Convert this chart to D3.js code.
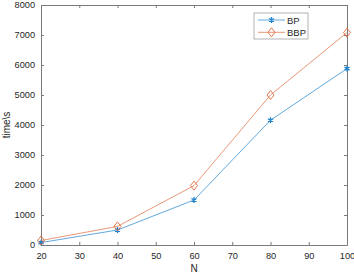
<!DOCTYPE html>
<html>
<head>
<meta charset="utf-8">
<script src="https://cdn.jsdelivr.net/npm/d3@7"></script>
<style>
  body { margin: 0; background: #fff; }
  text { font-family: "Liberation Sans", Arial, sans-serif; }
</style>
</head>
<body>
<div id="chart"></div>
<script>
// data
var nValues = [20, 40, 60, 80, 100];
var bpTimes = [80, 500, 1500, 4160, 5880];
var bbpTimes = [150, 620, 1980, 5000, 7080];
var xTicks = [20, 30, 40, 50, 60, 70, 80, 90, 100];
var yTicks = [0, 1000, 2000, 3000, 4000, 5000, 6000, 7000, 8000];

var W = 354, H = 274;
var margin = {top: 5, right: 7, bottom: 29, left: 41},
    width = W - margin.left - margin.right,
    height = H - margin.top - margin.bottom;

var blue = "#1f82cc", orange = "#e06a3c", axisCol = "#7a7a7a";

var svg = d3.select("#chart")
  .append("svg")
    .attr("width", W)
    .attr("height", H)
  .append("g")
    .attr("transform", "translate(" + margin.left + "," + margin.top + ")");

var x = d3.scaleLinear().domain([20, 100]).range([0, width]);
var y = d3.scaleLinear().domain([0, 8000]).range([height, 0]);

// box + axes (ticks inward, on all four sides)
function styleAxis(g) {
  g.selectAll("path").attr("stroke", axisCol);
  g.selectAll("line").attr("stroke", axisCol);
  g.selectAll("text").attr("fill", "#262626").attr("font-size", "9.2px");
}

svg.append("g")
  .attr("transform", "translate(0," + height + ")")
  .call(d3.axisBottom(x).tickValues(xTicks).tickSizeInner(-3).tickSizeOuter(0).tickPadding(7).tickFormat(d3.format("d")))
  .call(styleAxis);
svg.append("g")
  .call(d3.axisTop(x).tickValues(xTicks).tickSizeInner(-3).tickSizeOuter(0).tickFormat(""))
  .call(styleAxis);
svg.append("g")
  .call(d3.axisLeft(y).tickValues(yTicks).tickSizeInner(-3).tickSizeOuter(0).tickPadding(6).tickFormat(d3.format("d")))
  .call(styleAxis);
svg.append("g")
  .attr("transform", "translate(" + width + ",0)")
  .call(d3.axisRight(y).tickValues(yTicks).tickSizeInner(-3).tickSizeOuter(0).tickFormat(""))
  .call(styleAxis);

// axis labels
svg.append("text")
  .attr("x", width / 2)
  .attr("y", height + 27)
  .attr("text-anchor", "middle")
  .attr("font-size", "10px")
  .attr("fill", "#262626")
  .text("N");
svg.append("text")
  .attr("transform", "translate(" + (-31) + "," + (height / 2) + ") rotate(-90)")
  .attr("text-anchor", "middle")
  .attr("font-size", "10px")
  .attr("fill", "#262626")
  .text("time\\s");

var line = d3.line()
  .x(function(d) { return x(d[0]); })
  .y(function(d) { return y(d[1]); });

var bpData = nValues.map(function(n, i) { return [n, bpTimes[i]]; });
var bbpData = nValues.map(function(n, i) { return [n, bbpTimes[i]]; });

var star = d3.symbol().type(d3.symbolAsterisk).size(24);
var diamond = "M0,-4.5L3.5,0L0,4.5L-3.5,0Z";

svg.append("path")
  .datum(bpData)
  .attr("fill", "none")
  .attr("stroke", blue)
  .attr("stroke-width", 0.7)
  .attr("d", line);
svg.selectAll(".bp")
  .data(bpData)
  .enter()
  .append("path")
    .attr("class", "bp")
    .attr("transform", function(d) { return "translate(" + x(d[0]) + "," + y(d[1]) + ")"; })
    .attr("d", star)
    .attr("fill", "none")
    .attr("stroke", blue)
    .attr("stroke-width", 1.3);

svg.append("path")
  .datum(bbpData)
  .attr("fill", "none")
  .attr("stroke", orange)
  .attr("stroke-width", 0.7)
  .attr("d", line);
svg.selectAll(".bbp")
  .data(bbpData)
  .enter()
  .append("path")
    .attr("class", "bbp")
    .attr("transform", function(d) { return "translate(" + x(d[0]) + "," + y(d[1]) + ")"; })
    .attr("d", diamond)
    .attr("fill", "none")
    .attr("stroke", orange)
    .attr("stroke-width", 0.9);

// legend
var legend = svg.append("g").attr("transform", "translate(" + (254 - margin.left) + "," + (13 - margin.top) + ")");
legend.append("rect")
  .attr("width", 54)
  .attr("height", 26)
  .attr("fill", "#fff")
  .attr("stroke", "#a0a0a0")
  .attr("stroke-width", 0.8);
var series = [{name: "BP", color: blue, sym: "star"}, {name: "BBP", color: orange, sym: "diamond"}];
series.forEach(function(s, i) {
  var yy = 7 + i * 12.3;
  legend.append("line")
    .attr("x1", 4).attr("x2", 31).attr("y1", yy).attr("y2", yy)
    .attr("stroke", s.color).attr("stroke-width", 0.7);
  legend.append("path")
    .attr("transform", "translate(17.5," + yy + ")")
    .attr("d", s.sym == "star" ? star : diamond)
    .attr("fill", "none")
    .attr("stroke", s.color)
    .attr("stroke-width", s.sym == "star" ? 1.3 : 0.9);
  legend.append("text")
    .attr("x", 33)
    .attr("y", yy + 3.5)
    .attr("font-size", "9.5px")
    .attr("fill", "#262626")
    .text(s.name);
});
</script>
</body>
</html>
